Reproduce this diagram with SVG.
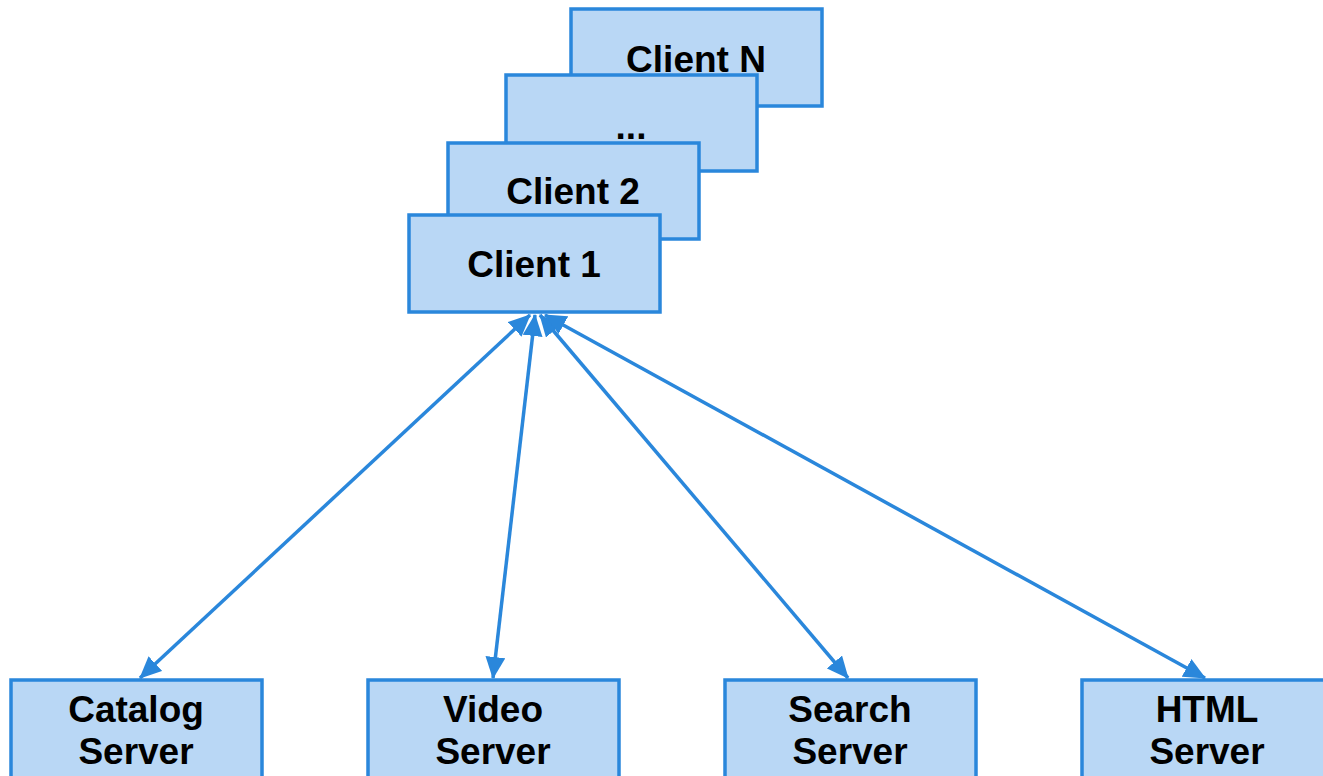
<svg xmlns="http://www.w3.org/2000/svg" width="1323" height="776" viewBox="0 0 1323 776">
<style>
.box{fill:#b9d7f5;stroke:#2a87db;stroke-width:3.5}
.t{font-family:"Liberation Sans",Arial,sans-serif;font-weight:bold;font-size:37px;fill:#000;text-anchor:middle}
.c{stroke:#2a87db;stroke-width:3.5;fill:none;marker-start:url(#ah);marker-end:url(#ah)}
</style>
<defs>
<marker id="ah" viewBox="0 0 22 20" refX="21" refY="10" markerWidth="22" markerHeight="20" markerUnits="userSpaceOnUse" orient="auto-start-reverse">
<path d="M0,0 L22,10 L0,20 Z" fill="#2a87db"/>
</marker>
</defs>
<rect width="1323" height="776" fill="#fff"/>
<g id="clientN"><rect class="box" x="571" y="9" width="251" height="97"/><text class="t" x="696" y="72">Client N</text></g>
<g id="clientDots"><rect class="box" x="506" y="75" width="251" height="96"/><text class="t" x="631" y="139">...</text></g>
<g id="client2"><rect class="box" x="448" y="143" width="251" height="96"/><text class="t" x="573" y="204">Client 2</text></g>
<g id="client1"><rect class="box" x="409" y="215" width="251" height="97"/><text class="t" x="534" y="277">Client 1</text></g>
<g id="catalog"><rect class="box" x="11" y="680" width="251" height="110"/><text class="t" x="136" y="722">Catalog</text><text class="t" x="136" y="764">Server</text></g>
<g id="video"><rect class="box" x="368" y="680" width="251" height="110"/><text class="t" x="493" y="722">Video</text><text class="t" x="493" y="764">Server</text></g>
<g id="search"><rect class="box" x="725" y="680" width="251" height="110"/><text class="t" x="850" y="722">Search</text><text class="t" x="850" y="764">Server</text></g>
<g id="html"><rect class="box" x="1082" y="680" width="251" height="110"/><text class="t" x="1207" y="722">HTML</text><text class="t" x="1207" y="764">Server</text></g>
<g id="connectors">
<line class="c" x1="530" y1="315" x2="140" y2="678"/>
<line class="c" x1="535" y1="315" x2="493" y2="678"/>
<line class="c" x1="540" y1="315" x2="848" y2="678"/>
<line class="c" x1="545" y1="315" x2="1205" y2="678"/>
</g>
</svg>
